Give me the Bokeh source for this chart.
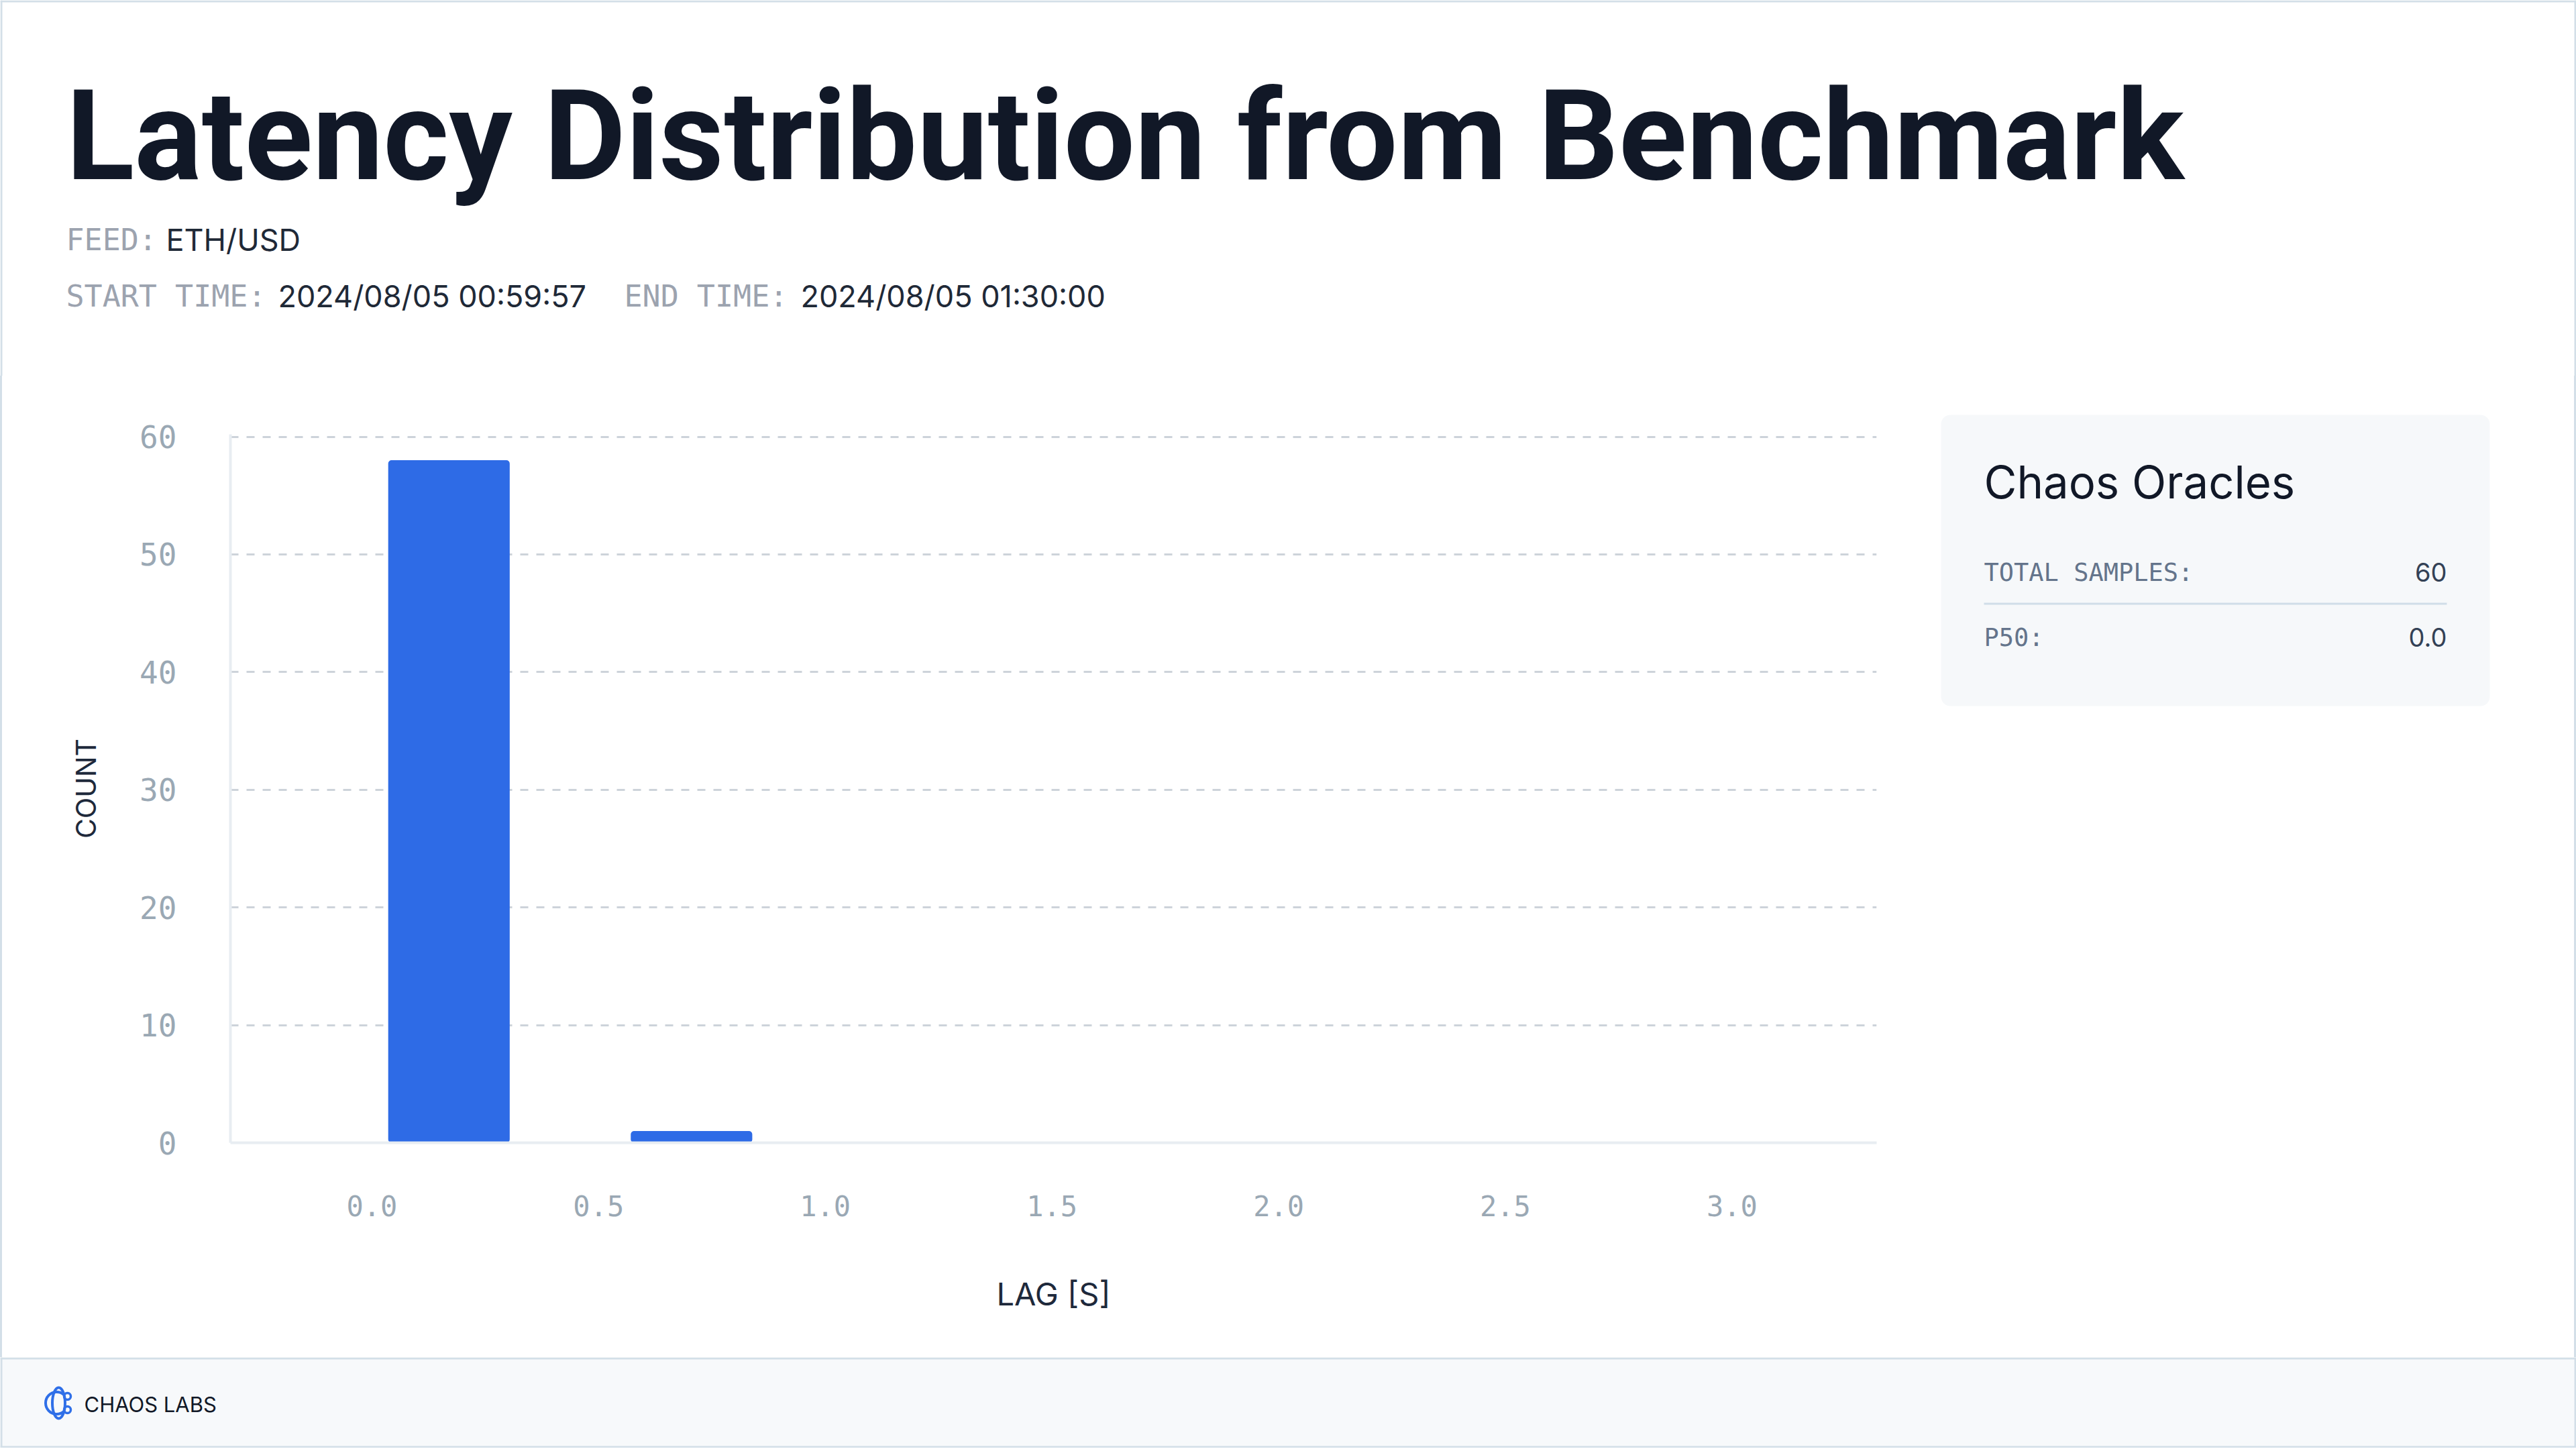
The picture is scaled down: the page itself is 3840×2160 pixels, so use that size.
import numpy as np
from bokeh.plotting import figure
from bokeh.layouts import column, row
from bokeh.models import (Range1d, FixedTicker, NumeralTickFormatter, Label,
                          BoxAnnotation, Spacer)
from bokeh.embed import file_html
from bokeh.resources import INLINE

# ---------------- data ----------------
lag_bin_centers = [0.17, 0.705]
lag_counts = [58, 1]
bin_bar_width = 0.268
x_tick_values = [0.0, 0.5, 1.0, 1.5, 2.0, 2.5, 3.0]
y_tick_values = [0, 10, 20, 30, 40, 50, 60]

title_text = "Latency Distribution from Benchmark"
feed_label, feed_value = "FEED:", "ETH/USD"
start_label, start_value = "START TIME:", "2024/08/05 00:59:57"
end_label, end_value = "END TIME:", "2024/08/05 01:30:00"
card_title = "Chaos Oracles"
stat_labels = ["TOTAL SAMPLES:", "P50:"]
stat_values = ["60", "0.0"]
footer_brand = "CHAOS LABS"
x_axis_title = "LAG [S]"
y_axis_title = "COUNT"

# ---------------- page geometry (page pixels) ----------------
PW = 3840
HEAD_B = 560          # header bottom
MID_B = 2023          # chart row bottom / footer top
FOOT_B = 2158         # footer bottom
BRD = 3               # page border width
SPLIT = 2850          # chart | card split
FL, FR, FT, FB = 343, 2797, 647, 1703   # chart frame
Y_TOP = 60.2

SANS = "Inter"
MONO = "DejaVu Sans Mono"
BORDER_C = "#d3dfe8"


def canvas(x0, x1, y0, y1, bg="white"):
    f = figure(width=x1 - x0, height=y1 - y0, output_backend="svg", toolbar_location=None,
               x_range=Range1d(x0, x1), y_range=Range1d(y1, y0),
               x_axis_type=None, y_axis_type=None, min_border=0, frame_align=False)
    f.title.visible = False
    f.outline_line_color = None
    f.background_fill_color = bg
    f.border_fill_color = bg
    f.grid.visible = False
    return f


def lab(f, x, y, text, font=SANS, size=42, color="#1f2937", align="left", style="normal", k=0.33):
    # y is the wanted baseline; compensate for the label's baseline placement
    f.add_layout(Label(x=x, y=y - k * size, text=text, text_font=font, text_font_size=f"{size}px",
                       text_color=color, text_align=align, text_baseline="alphabetic",
                       text_font_style=style))


def box(f, l, r, t, b, fill, radius=0, level="underlay"):
    f.add_layout(BoxAnnotation(left=l, right=r, top=t, bottom=b, fill_color=fill, fill_alpha=1.0,
                               line_color=None, border_radius=radius, level=level))


# ---------------- header ----------------
head = canvas(0, PW, 0, HEAD_B)
box(head, 0, BRD, 0, HEAD_B, BORDER_C, level="annotation")
box(head, PW - BRD, PW, 0, HEAD_B, BORDER_C, level="annotation")
box(head, 0, PW, 0, BRD, BORDER_C, level="annotation")
lab(head, 98, 259, title_text, font="Roboto", size=188, color="#111827", style="bold", k=0.30)
lab(head, 98, 372, feed_label, font=MONO, size=45, color="#9ca3af")
lab(head, 247, 372, feed_value, size=45, color="#1f2937")
lab(head, 98, 456, start_label, font=MONO, size=45, color="#9ca3af")
lab(head, 414, 456, start_value, size=45, color="#1f2937")
lab(head, 930, 456, end_label, font=MONO, size=45, color="#9ca3af")
lab(head, 1193, 456, end_value, size=45, color="#1f2937")

# ---------------- chart ----------------
p = figure(width=SPLIT - BRD, height=MID_B - HEAD_B, output_backend="svg", toolbar_location=None,
           x_range=Range1d(-0.312, 3.319), y_range=Range1d(0, Y_TOP),
           min_border_left=FL - BRD, min_border_right=SPLIT - FR,
           min_border_top=FT - HEAD_B, min_border_bottom=MID_B - FB, frame_align=False)
p.title.visible = False
p.outline_line_color = None

p.vbar(x=lag_bin_centers, top=lag_counts, bottom=0, width=bin_bar_width,
       fill_color="#2e6be6", line_color=None, border_radius=5)

p.xaxis.ticker = FixedTicker(ticks=x_tick_values)
p.xaxis.formatter = NumeralTickFormatter(format="0.0")
p.yaxis.ticker = FixedTicker(ticks=y_tick_values)
for ax in (p.xaxis[0], p.yaxis[0]):
    ax.major_tick_line_color = None
    ax.minor_tick_line_color = None
    ax.axis_line_color = "#e8edf2"
    ax.axis_line_width = 4
    ax.major_label_text_font = MONO
    ax.major_label_text_color = "#9aa8b4"
    ax.axis_label_text_font = SANS
    ax.axis_label_text_font_style = "normal"
    ax.axis_label_text_color = "#1e293b"
p.xaxis.major_label_text_font_size = "42px"
p.yaxis.major_label_text_font_size = "46px"
p.xaxis.axis_label_text_font_size = "47px"
p.yaxis.axis_label_text_font_size = "41px"
p.xaxis.axis_label = x_axis_title
p.yaxis.axis_label = y_axis_title
p.xaxis.major_label_standoff = 72
p.xaxis.axis_label_standoff = 84
p.yaxis.major_label_text_align = "left"
p.yaxis.major_label_standoff = 74
p.yaxis.axis_label_standoff = 52

p.xgrid.visible = False
p.ygrid.ticker = FixedTicker(ticks=y_tick_values)
p.ygrid.grid_line_color = "#cdd3da"
p.ygrid.grid_line_width = 3
p.ygrid.grid_line_dash = "12 12"

# ---------------- stats card ----------------
card = canvas(SPLIT, PW - BRD, HEAD_B, MID_B)
box(card, 2893, 3711, 618, 1052, "#f6f8fa", radius=14)
lab(card, 2957, 740, card_title, size=67, color="#111827")
lab(card, 2957, 865, stat_labels[0], font=MONO, size=37, color="#64748b")
lab(card, 3647, 865, stat_values[0], size=38, color="#334155", align="right")
box(card, 2957, 3647, 898, 901, "#d0dde8", level="annotation")
lab(card, 2957, 962, stat_labels[1], font=MONO, size=37, color="#64748b")
lab(card, 3647, 962, stat_values[1], size=38, color="#334155", align="right")

# ---------------- footer ----------------
foot = canvas(0, PW, MID_B, FOOT_B, bg="#f7f9fb")
box(foot, 0, PW, MID_B, MID_B + 3, BORDER_C, level="annotation")
box(foot, 0, BRD, MID_B, FOOT_B, BORDER_C, level="annotation")
box(foot, PW - BRD, PW, MID_B, FOOT_B, BORDER_C, level="annotation")
box(foot, 0, PW, FOOT_B - BRD, FOOT_B, BORDER_C, level="annotation")
lab(foot, 125, 2103, footer_brand, size=31, color="#111827")
LOGO = "#2f6fe8"
foot.ellipse(x=87, y=2091, width=19, height=46, fill_alpha=0, line_color=LOGO, line_width=4)
foot.arc(x=84, y=2091, radius=16.5, start_angle=np.radians(50), end_angle=np.radians(310),
         line_color=LOGO, line_width=4)
foot.scatter(x=[100, 100], y=[2081, 2101], size=10, marker="circle", fill_alpha=0,
             line_color=LOGO, line_width=3.5)

left_edge = Spacer(width=BRD, height=MID_B - HEAD_B, styles={"background-color": BORDER_C})
right_edge = Spacer(width=BRD, height=MID_B - HEAD_B, styles={"background-color": BORDER_C})

layout = column(head, row(left_edge, p, card, right_edge, spacing=0), foot, spacing=0)

open("out.html", "w").write(file_html(layout, INLINE))
